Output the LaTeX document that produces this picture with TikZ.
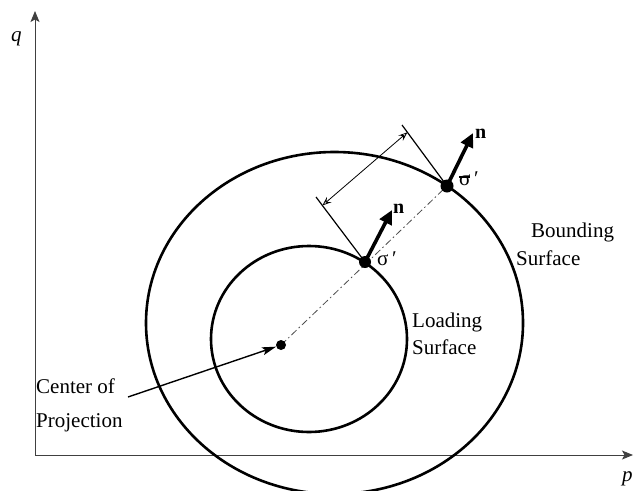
\documentclass[tikz,border=0pt]{standalone}
\usepackage{fontspec}
\setmainfont{Liberation Serif}
\usetikzlibrary{arrows.meta,calc}
\begin{document}
\begin{tikzpicture}[x=1pt,y=-1pt,
  lbl/.style={anchor=base west,inner sep=0pt,font=\rmfamily\fontsize{21}{25}\selectfont},
  nlbl/.style={anchor=base west,inner sep=0pt,font=\rmfamily\fontsize{20}{24}\selectfont\bfseries},
  axisline/.style={line width=1pt,draw=black!75,-{Stealth[length=11pt,width=9pt,inset=2.5pt]}},
  surf/.style={line width=2.6pt},
  dotnode/.style={circle,fill=black,inner sep=0pt,minimum size=#1},
  normalarrow/.style={line width=3.6pt,-{Triangle[length=14pt,width=13pt]}},
  tangentline/.style={line width=1.2pt},
  dimarrow/.style={line width=0.8pt,{Stealth[open,length=9pt,width=7pt,inset=3.5pt]}-{Stealth[open,length=9pt,width=7pt,inset=3.5pt]}},
  dashdot/.style={line width=0.8pt,draw=black!70,dash pattern=on 7pt off 3pt on 1.5pt off 3pt},
  leader/.style={line width=1.4pt,-{Stealth[length=14pt,width=8pt,inset=3pt]}}
]
\useasboundingbox (0,0) rectangle (639,490);

% axes
\coordinate (O) at (35,455);
\coordinate (qtip) at (35,11);
\coordinate (ptip) at (633,455);
\draw[axisline] (O) -- (qtip);
\draw[axisline] (O) -- (ptip);
\node[lbl,font=\rmfamily\fontsize{21}{25}\selectfont\itshape] (qlab) at (11,41) {q};
\node[lbl,font=\rmfamily\fontsize{21}{25}\selectfont\itshape] (plab) at (622,481) {p};

% surfaces
\draw[surf] (334.5,323) ellipse [x radius=188.5pt, y radius=171pt];
\draw[surf] (309,339) ellipse [x radius=98pt, y radius=93pt];

% points
\coordinate (cpc) at (281,345);
\coordinate (s1c) at (365,262);
\coordinate (s2c) at (447,186);
\draw[dashdot] (cpc) -- (s2c);
\node[dotnode=10pt] (cp) at (cpc) {};
\node[dotnode=12pt] (s1) at (s1c) {};
\node[dotnode=13pt] (s2) at (s2c) {};

% tangent lines and distance
\coordinate (t1) at (316,197);
\coordinate (t2) at (402,125);
\draw[tangentline] (s1.center) -- (t1);
\draw[tangentline] (s2.center) -- (t2);
\coordinate (d1) at ($(s1.center)!0.87!(t1)$);
\coordinate (d2) at ($(s2.center)!0.88!(t2)$);
\draw[dimarrow] (d1) -- (d2);

% normals
\coordinate (n1tip) at (392,210);
\coordinate (n2tip) at (473,133);
\draw[normalarrow] (s1.center) -- (n1tip);
\draw[normalarrow] (s2.center) -- (n2tip);
\node[nlbl] (n1lab) at (393,213) {n};
\node[nlbl] (n2lab) at (475,138) {n};

% sigma labels
\node[lbl] (sig1) at (377,265) {σ\,′};
\node[lbl] (sig2) at (459,185) {\rlap{\rule[0.34em]{0.52em}{0.07em}}σ\,′};

% surface labels
\node[lbl] (load1) at (412,327) {Loading};
\node[lbl] (load2) at (412,354) {Surface};
\node[lbl] (bnd1) at (531,237) {Bounding};
\node[lbl] (bnd2) at (516,265) {Surface};

% center of projection
\node[lbl] (cop1) at (36,393) {Center of};
\node[lbl] (cop2) at (36,427) {Projection};
\coordinate (leadstart) at (128,397);
\draw[leader] (leadstart) -- (cp);
\end{tikzpicture}
\end{document}
